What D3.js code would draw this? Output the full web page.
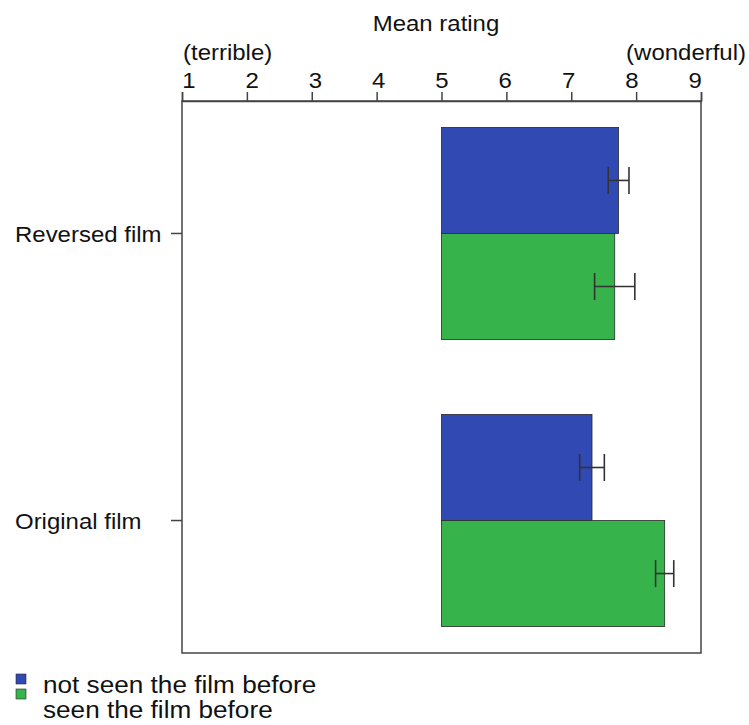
<!DOCTYPE html>
<html>
<head>
<meta charset="utf-8">
<script src="https://cdn.jsdelivr.net/npm/d3@7"></script>
<style>
  html, body { margin: 0; padding: 0; background: #fff; }
  svg { display: block; font-family: "Liberation Sans", Arial, Helvetica, sans-serif; }
</style>
</head>
<body>
<svg id="chart" width="749" height="725"></svg>
<script>
// Film ratings: mean rating (1 = terrible, 9 = wonderful) with error bars
const categories = ["Reversed film", "Original film"];
const groups = ["not seen the film before", "seen the film before"];
const notSeenMean = [7.73, 7.32];
const seenMean = [7.67, 8.44];
const notSeenErr = [0.16, 0.19];
const seenErr = [0.31, 0.14];
const xTicks = [1, 2, 3, 4, 5, 6, 7, 8, 9];
const barBase = 5;
const colors = ["#3149b3", "#36b34a"];

const svg = d3.select("#chart");
const plotLeft = 182, plotRight = 701, plotTop = 101, plotBottom = 653;
const stretch = "scale(1.09,1)";

const x = d3.scaleLinear().domain([1, 9]).range([plotLeft, plotRight]);
const y = d3.scaleBand().domain(categories).range([plotTop, plotBottom])
  .paddingInner(0.261).paddingOuter(0.092);
const sub = d3.scaleBand().domain(groups).range([0, y.bandwidth()]);

const rows = categories.map((c, i) => ({
  cat: c,
  vals: [
    { g: groups[0], mean: notSeenMean[i], err: notSeenErr[i], color: colors[0] },
    { g: groups[1], mean: seenMean[i], err: seenErr[i], color: colors[1] }
  ]
}));

// plot frame
svg.append("rect")
  .attr("x", plotLeft).attr("y", plotTop)
  .attr("width", plotRight - plotLeft).attr("height", plotBottom - plotTop)
  .attr("fill", "none").attr("stroke", "#444").attr("stroke-width", 1.5);

// bars
const g = svg.append("g");
rows.forEach(r => {
  r.vals.forEach(v => {
    g.append("rect")
      .attr("x", x(barBase))
      .attr("y", y(r.cat) + sub(v.g))
      .attr("width", x(v.mean) - x(barBase))
      .attr("height", sub.bandwidth())
      .attr("fill", v.color)
      .attr("stroke", "#2a2a2a").attr("stroke-width", 0.8);
  });
});

// error bars
const capH = 27;
rows.forEach(r => {
  r.vals.forEach(v => {
    const cy = y(r.cat) + sub(v.g) + sub.bandwidth() / 2;
    const eg = g.append("g").attr("stroke", "#333").attr("stroke-width", 1.6);
    eg.append("line").attr("x1", x(v.mean - v.err)).attr("x2", x(v.mean + v.err))
      .attr("y1", cy).attr("y2", cy);
    [v.mean - v.err, v.mean + v.err].forEach(e => {
      eg.append("line").attr("x1", x(e)).attr("x2", x(e))
        .attr("y1", cy - capH / 2).attr("y2", cy + capH / 2);
    });
  });
});

// top axis
const xAxis = svg.append("g")
  .attr("transform", `translate(0,${plotTop})`)
  .call(d3.axisTop(x).tickValues(xTicks).tickSize(9).tickPadding(4).tickSizeOuter(9));
xAxis.select(".domain").attr("stroke", "#444").attr("stroke-width", 1.5);
xAxis.selectAll(".tick line").attr("stroke", "#444").attr("stroke-width", 1.5);
xAxis.selectAll(".tick text")
  .attr("font-size", 22).attr("fill", "#111")
  .attr("font-family", "Liberation Sans, Arial, sans-serif")
  .attr("transform", d => `translate(${(5 - d) * 1.6},0) ${stretch}`);

// left axis (category ticks, labels left-aligned)
const yAxis = svg.append("g")
  .attr("transform", `translate(${plotLeft},0)`)
  .call(d3.axisLeft(y).tickSize(11).tickSizeOuter(0));
yAxis.select(".domain").remove();
yAxis.selectAll(".tick line").attr("stroke", "#444").attr("stroke-width", 1.5);
yAxis.selectAll(".tick text")
  .attr("text-anchor", "start")
  .attr("x", 0)
  .attr("dy", "0.38em")
  .attr("font-size", 22).attr("fill", "#111")
  .attr("font-family", "Liberation Sans, Arial, sans-serif")
  .attr("transform", `translate(${15 - plotLeft},0) ${stretch}`);

// titles
svg.append("text")
  .attr("transform", `translate(436,31) ${stretch}`)
  .attr("text-anchor", "middle").attr("font-size", 22).attr("fill", "#111")
  .text("Mean rating");
svg.append("text")
  .attr("transform", `translate(183,60) ${stretch}`)
  .attr("text-anchor", "start").attr("font-size", 22).attr("fill", "#111")
  .text("(terrible)");
svg.append("text")
  .attr("transform", `translate(746,60) ${stretch}`)
  .attr("text-anchor", "end").attr("font-size", 22).attr("fill", "#111")
  .text("(wonderful)");

// legend
const legendSquareY = [674, 689];
const legendTextY = [693, 718];
groups.forEach((name, i) => {
  svg.append("rect")
    .attr("x", 16).attr("y", legendSquareY[i])
    .attr("width", 10).attr("height", 10)
    .attr("fill", colors[i]).attr("stroke", "#2a2a2a").attr("stroke-width", 0.6);
  svg.append("text")
    .attr("transform", `translate(43,${legendTextY[i]}) ${stretch}`)
    .attr("font-size", 24).attr("fill", "#111")
    .text(name);
});
</script>
</body>
</html>
